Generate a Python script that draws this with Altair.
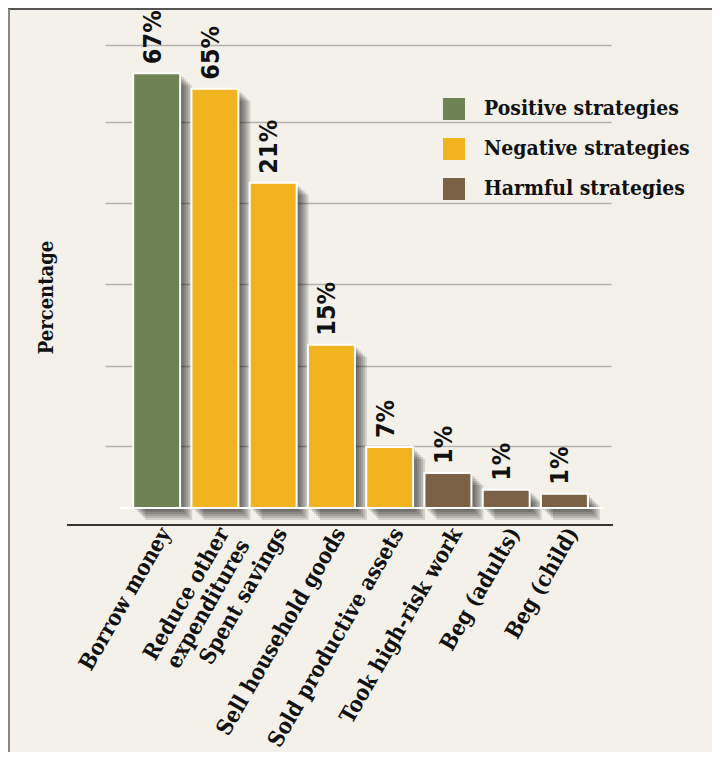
import altair as alt
import pandas as pd

# ---- data ----
categories = ["Borrow money", "Reduce other|expenditures", "Spent savings",
              "Sell household goods", "Sold productive assets",
              "Took high-risk work", "Beg (adults)", "Beg (child)"]
bar_heights = [67.1, 64.7, 50.2, 25.2, 9.4, 5.4, 2.8, 2.2]
value_labels = ["67%", "65%", "21%", "15%", "7%", "1%", "1%", "1%"]
groups = ["Positive strategies", "Negative strategies", "Negative strategies",
          "Negative strategies", "Negative strategies", "Harmful strategies",
          "Harmful strategies", "Harmful strategies"]
group_order = ["Positive strategies", "Negative strategies", "Harmful strategies"]
group_colors = ["#6f8254", "#f2b321", "#7b6246"]
grid_values = [9.6, 21.9, 34.6, 47.1, 59.6, 71.5]

df = pd.DataFrame({"category": categories, "value": bar_heights,
                   "label": value_labels, "group": groups})
one = pd.DataFrame({"k": [0]})

SERIF = "DejaVu Serif Condensed, DejaVu Serif"
SANS = "DejaVu Sans Condensed, DejaVu Sans"
W, H = 506, 488
PAD_R, PAD_B = 101, 244

x_enc = alt.X("category:N", sort=categories,
              scale=alt.Scale(paddingInner=0.194, paddingOuter=0.44, align=0.55),
              axis=alt.Axis(title=None, domain=False, ticks=False, labelAngle=300,
                            labelAlign="right", labelBaseline="top",
                            labelFont=SERIF, labelFontSize=22, labelFontWeight="bold",
                            labelColor="#111111", labelPadding=16, labelLimit=400,
                            labelOverlap=False, labelLineHeight=24,
                            labelExpr="split(datum.label, '|')"))
y_enc = alt.Y("value:Q", scale=alt.Scale(domain=[0, 75.3], nice=False),
              axis=alt.Axis(values=grid_values, grid=True, labels=False, ticks=False,
                            domain=False, gridColor="#b4b2ae", gridWidth=1.6,
                            title="Percentage", titleFont=SERIF, titleFontSize=20,
                            titleFontWeight="bold", titleColor="#111111",
                            titleAngle=270, titleX=-59, titleY=277,
                            titleAlign="center", titleBaseline="middle"))

layers = []
# soft drop shadow built from several translucent offset copies of the bars
for d in (2, 4, 6, 8, 10, 12):
    layers.append(
        alt.Chart(df).mark_bar(color="#000000", opacity=0.13, xOffset=d,
                               yOffset=d, y2Offset=d)
        .encode(x=x_enc, y=y_enc, y2=alt.datum(0))
    )

bars = alt.Chart(df).mark_bar(stroke="white", strokeWidth=2).encode(
    x=x_enc, y=y_enc,
    color=alt.Color("group:N",
                    scale=alt.Scale(domain=group_order, range=group_colors),
                    legend=alt.Legend(title=None, orient="none", legendX=338, legendY=78,
                                      symbolType="square", symbolSize=484,
                                      symbolStrokeWidth=0, symbolOpacity=1,
                                      labelFont=SERIF, labelFontSize=21,
                                      labelFontWeight="bold", labelColor="#111111",
                                      rowPadding=18, labelOffset=19, padding=0,
                                      labelLimit=400)),
)
layers.append(bars)

texts = alt.Chart(df).mark_text(angle=270, align="left", baseline="middle", dx=9,
                                dy=-4, font=SANS, fontSize=25, fontWeight="bold",
                                color="#111111").encode(x=x_enc, y=y_enc, text="label:N")
layers.append(texts)

base_line = alt.Chart(one).mark_rule(color="white", strokeWidth=2).encode(
    y=alt.value(H), x=alt.value(15), x2=alt.value(499))
axis_line = alt.Chart(one).mark_rule(color="#333333", strokeWidth=2).encode(
    y=alt.value(H + 17), x=alt.value(-38), x2=alt.value(W + 2))
top_border = alt.Chart(one).mark_rule(color="#555555", strokeWidth=2).encode(
    y=alt.value(-11), x=alt.value(-97), x2=alt.value(W + PAD_R))
left_border = alt.Chart(one).mark_rule(color="#888888", strokeWidth=2).encode(
    x=alt.value(-96), y=alt.value(-11), y2=alt.value(H + PAD_B))
layers += [base_line, axis_line, top_border, left_border]

chart = alt.layer(*layers).properties(
    width=W, height=H,
    padding={"left": 97, "top": 12, "right": PAD_R, "bottom": PAD_B},
    autosize=alt.AutoSizeParams(type="none"),
    background="#f4f1eb",
).configure_view(stroke=None)

chart.save("out.html", embed_options={"renderer": "svg", "actions": False})
